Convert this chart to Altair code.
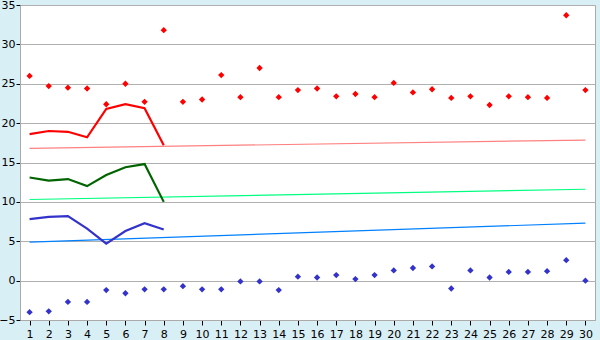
import altair as alt
import pandas as pd

days = list(range(1, 31))
red_pts = [26.0, 24.7, 24.5, 24.4, 22.4, 25.0, 22.7, 31.8, 22.7, 23.0,
           26.1, 23.3, 27.0, 23.3, 24.2, 24.4, 23.4, 23.7, 23.3, 25.1,
           23.9, 24.3, 23.2, 23.4, 22.3, 23.4, 23.3, 23.2, 33.7, 24.2]
blue_pts = [-4.0, -3.9, -2.7, -2.7, -1.2, -1.6, -1.1, -1.1, -0.7, -1.1,
            -1.1, -0.1, -0.1, -1.2, 0.5, 0.4, 0.7, 0.2, 0.7, 1.3,
            1.6, 1.8, -1.0, 1.3, 0.4, 1.1, 1.1, 1.2, 2.6, 0.0]

line_days = [1, 2, 3, 4, 5, 6, 7, 8]
red_line = [18.6, 19.0, 18.9, 18.2, 21.8, 22.4, 21.9, 17.2]
green_line = [13.1, 12.7, 12.9, 12.0, 13.4, 14.4, 14.8, 10.0]
blue_line = [7.8, 8.1, 8.2, 6.6, 4.7, 6.3, 7.3, 6.5]

trend_days = [1, 30]
red_trend = [16.8, 17.85]
green_trend = [10.3, 11.6]
blue_trend = [4.9, 7.3]

pts = pd.DataFrame({"day": days * 2, "v": red_pts + blue_pts,
                    "s": ["r"] * 30 + ["b"] * 30})
lines = pd.DataFrame({"day": line_days * 3,
                      "v": red_line + green_line + blue_line,
                      "s": ["r"] * 8 + ["g"] * 8 + ["b"] * 8})
trends = pd.DataFrame({"day": trend_days * 3,
                       "v": red_trend + green_trend + blue_trend,
                       "s": ["r"] * 2 + ["g"] * 2 + ["b"] * 2})

xs = alt.Scale(domain=[0.5, 30.5], nice=False, zero=False)
ys = alt.Scale(domain=[-5, 35], nice=False, zero=False)
xax = alt.Axis(values=days, grid=False, tickColor="#000", tickSize=5,
               domainColor="#aaaaaa", labelFontSize=11, labelColor="#000",
               labelFont="DejaVu Sans", labelPadding=3, title=None)
yax = alt.Axis(values=list(range(-5, 40, 5)), grid=True, gridColor="#b0b0b0",
               tickColor="#000", tickSize=4, domainColor="#aaaaaa",
               labelFontSize=11, labelColor="#000", labelFont="DejaVu Sans",
               labelPadding=1, title=None)

X = alt.X("day:Q", scale=xs, axis=xax)
Y = alt.Y("v:Q", scale=ys, axis=yax)

trend_layer = alt.Chart(trends).mark_line(strokeWidth=1.2).encode(
    x=X, y=Y, detail="s:N",
    color=alt.Color("s:N", scale=alt.Scale(domain=["r", "g", "b"],
                    range=["#ff8080", "#00ff80", "#0080ff"]), legend=None))
line_layer = alt.Chart(lines).mark_line(strokeWidth=2.2).encode(
    x=X, y=Y, detail="s:N",
    color=alt.Color("s:N", scale=alt.Scale(domain=["r", "g", "b"],
                    range=["#ff0000", "#006400", "#3333cc"]), legend=None))
pt_layer = alt.Chart(pts).mark_point(shape="diamond", filled=True, size=40,
                                      opacity=1).encode(
    x=X, y=Y,
    color=alt.Color("s:N", scale=alt.Scale(domain=["r", "b"],
                    range=["#ff0000", "#3333cc"]), legend=None))

chart = alt.layer(trend_layer, line_layer, pt_layer).resolve_scale(
    color="independent"
).properties(
    width=575, height=315, background="#d9eff6",
    padding={"left": 20, "top": 5, "right": 5, "bottom": 20},
    autosize=alt.AutoSizeParams(type="none"),
).configure_view(fill="white", stroke="#aaaaaa", strokeWidth=1)

chart.save("out.html", embed_options={"renderer": "svg", "actions": False})
